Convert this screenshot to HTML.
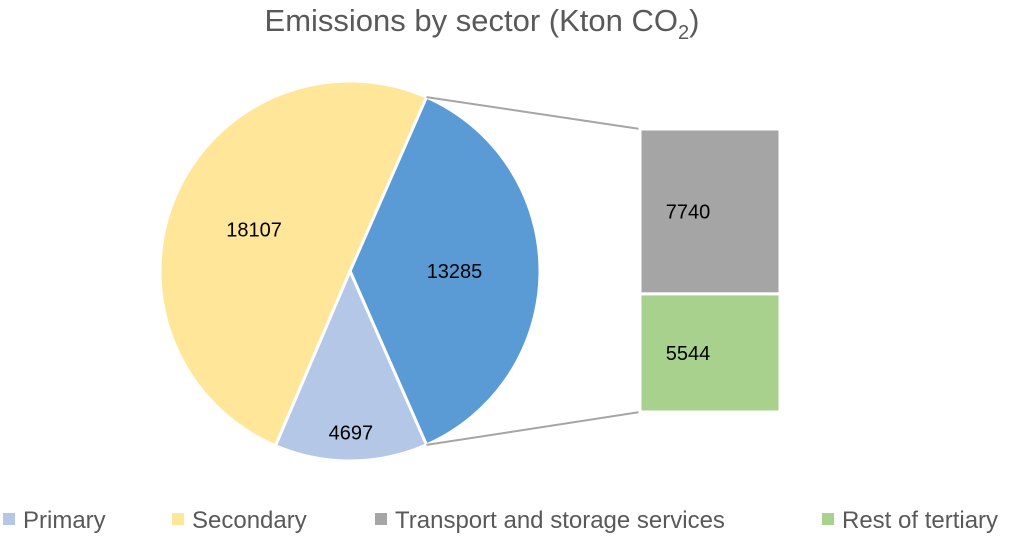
<!DOCTYPE html>
<html><head><meta charset="utf-8"><style>
body{margin:0;width:1024px;height:534px;background:#fff;overflow:hidden;font-family:"Liberation Sans",sans-serif}
svg text{font-family:"Liberation Sans",sans-serif}
</style></head><body>
<svg id="chart" width="1024" height="534" viewBox="0 0 1024 534">
<text x="482" y="31" text-anchor="middle" font-size="31" fill="#595959">Emissions by sector (Kton CO<tspan font-size="20" dy="8">2</tspan><tspan dy="-8">)</tspan></text>
<g id="pie"></g><g id="bar"></g><g id="legend"></g>
</svg>
<script>
const pieCats=["Tertiary","Primary","Secondary"];
const pieVals=[13285,4697,18107];
const barCats=["Transport and storage services","Rest of tertiary"];
const barVals=[7740,5544];
const legendCats=["Primary","Secondary","Transport and storage services","Rest of tertiary"];
const NS="http://www.w3.org/2000/svg";
const pieColors=["#5b9bd5","#b4c7e7","#ffe699"];
const barColors=["#a5a5a5","#a9d18e"];
const cx=350,cy=271,r=190;
const total=pieVals.reduce((a,b)=>a+b,0);
function pt(a,rr){return [cx+rr*Math.sin(a),cy-rr*Math.cos(a)];}
const pie=document.getElementById('pie');
const half=pieVals[0]/total*Math.PI;
let start=-half+Math.PI/2;
let ends=[];
pieVals.forEach((v,i)=>{
  const sweep=v/total*2*Math.PI;const end=start+sweep;
  const [x1,y1]=pt(start,r),[x2,y2]=pt(end,r);
  const p=document.createElementNS(NS,'path');
  p.setAttribute('d',`M${cx},${cy}L${x1},${y1}A${r},${r} 0 ${sweep>Math.PI?1:0} 1 ${x2},${y2}Z`);
  p.setAttribute('fill',pieColors[i]);p.setAttribute('stroke','#fff');p.setAttribute('stroke-width','3');
  
  
  pie.appendChild(p);
  const mid=start+sweep/2;const lr=i==1?r*0.85:r*0.55;
  const [lx,ly]=pt(mid,lr);
  const t=document.createElementNS(NS,'text');
  t.setAttribute('x',lx);t.setAttribute('y',ly+7);t.setAttribute('text-anchor','middle');t.setAttribute('font-size','20');
  
  
  t.textContent=v;pie.appendChild(t);
  if(i==0)ends=[[x1,y1],[x2,y2]];
  start=end;
});
const bar=document.getElementById('bar');
const bx=640,bw=140,btop=129,bh=283;const bt=barVals.reduce((a,b)=>a+b,0);
let y=btop;
[[ends[0],[bx,btop]],[ends[1],[bx,btop+bh]]].forEach((l,i)=>{
  const ln=document.createElementNS(NS,'line');
  ln.setAttribute('x1',l[0][0]);ln.setAttribute('y1',l[0][1]);ln.setAttribute('x2',l[1][0]);ln.setAttribute('y2',l[1][1]);
  ln.setAttribute('stroke','#a5a5a5');ln.setAttribute('stroke-width','2');
  
  
  bar.appendChild(ln);
});
barVals.forEach((v,i)=>{
  const h=v/bt*bh;
  const rc=document.createElementNS(NS,'rect');
  rc.setAttribute('x',bx);rc.setAttribute('y',y);rc.setAttribute('width',bw);rc.setAttribute('height',h);
  rc.setAttribute('fill',barColors[i]);rc.setAttribute('stroke','#fff');rc.setAttribute('stroke-width','3');
  
  
  bar.appendChild(rc);
  const t=document.createElementNS(NS,'text');
  t.setAttribute('x',bx+48);t.setAttribute('y',y+h/2+7);t.setAttribute('text-anchor','middle');t.setAttribute('font-size','20');
  
  
  t.textContent=v;bar.appendChild(t);
  y+=h;
});
const lg=document.getElementById('legend');
const lx=[3,172,375,822];const lcol=["#b4c7e7","#ffe699","#a5a5a5","#a9d18e"];
legendCats.forEach((c,i)=>{
  const s=document.createElementNS(NS,'rect');
  s.setAttribute('x',lx[i]);s.setAttribute('y',513);s.setAttribute('width',12);s.setAttribute('height',12);s.setAttribute('fill',lcol[i]);
  
  
  lg.appendChild(s);
  const t=document.createElementNS(NS,'text');
  t.setAttribute('x',lx[i]+20);t.setAttribute('y',528);t.setAttribute('font-size','24');t.setAttribute('fill','#595959');
  
  
  t.textContent=c;lg.appendChild(t);
});
</script>
</body></html>
